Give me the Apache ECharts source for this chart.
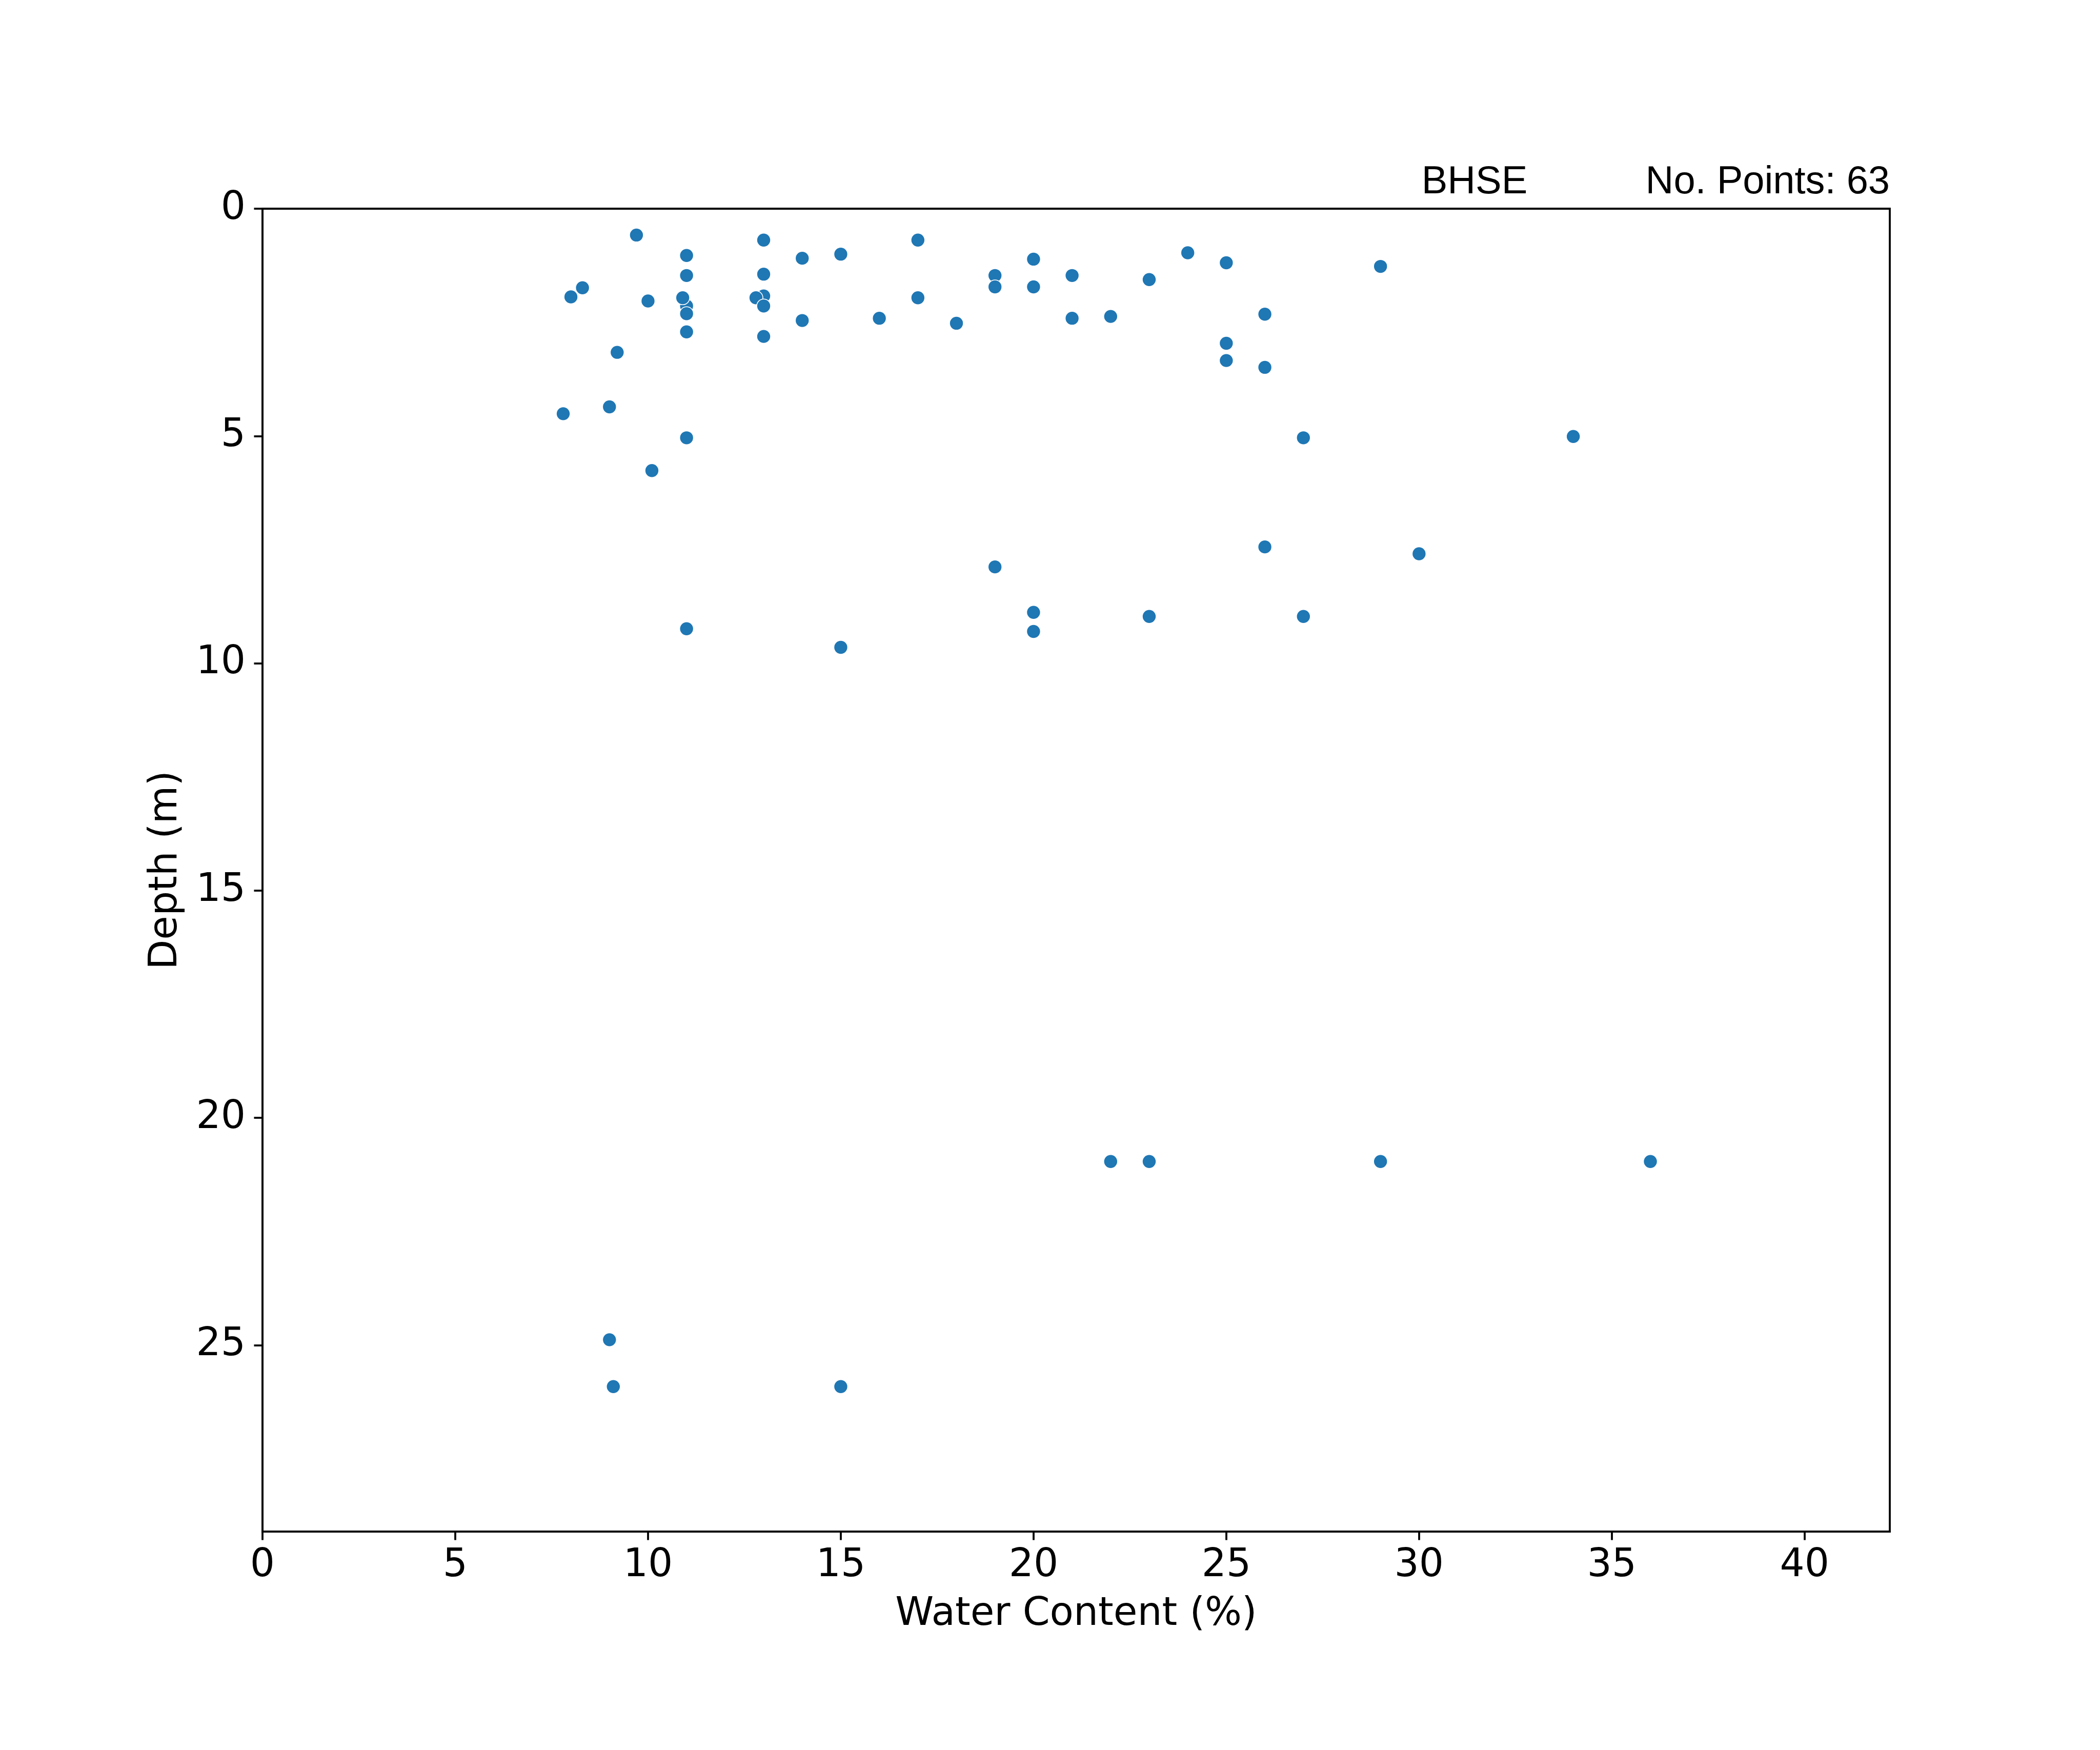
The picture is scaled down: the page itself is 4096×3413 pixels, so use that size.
<!DOCTYPE html>
<html>
<head>
<meta charset="utf-8">
<script src="https://cdn.jsdelivr.net/npm/echarts@6/dist/echarts.min.js"></script>
<style>html,body{margin:0;padding:0;background:#fff}#c{width:4096px;height:3413px}</style>
</head>
<body>
<div id="c"></div>
<script>
// Water content (%) and depth (m); hidden points drawn first
const waterContent = [11, 13,
  9.7, 11, 13, 14, 15, 17, 20, 24, 25, 29,
  11, 13, 19, 21, 23, 19, 20, 8.3, 8, 10,
  10.9, 11, 12.8, 13, 17, 14, 16, 18,
  21, 22, 26, 11, 13, 9.2, 25, 25, 26, 7.8,
  9, 11, 27, 34, 10.1, 26, 30, 19, 20, 20,
  23, 27, 11, 15, 22, 23, 29, 36, 9, 9.1, 15];
const depth = [2.14, 1.92,
  0.58, 1.03, 0.69, 1.09, 1.0, 0.69, 1.11, 0.97, 1.19, 1.27,
  1.47, 1.44, 1.47, 1.47, 1.56, 1.72, 1.72, 1.74, 1.94, 2.03,
  1.96, 2.31, 1.96, 2.14, 1.96, 2.46, 2.41, 2.52,
  2.41, 2.37, 2.32, 2.71, 2.81, 3.16, 2.96, 3.34, 3.49, 4.51,
  4.36, 5.04, 5.04, 5.01, 5.76, 7.44, 7.59, 7.88, 8.88, 9.30,
  8.97, 8.97, 9.24, 9.65, 20.96, 20.96, 20.96, 20.96, 24.88, 25.91, 25.91];
const xTicks = [0, 5, 10, 15, 20, 25, 30, 35, 40];
const yTicks = [0, 5, 10, 15, 20, 25];
const boreholeName = 'BHSE';
const pointsLabel = 'No. Points: 63';

const S = 0.8533;
const fs = 88.9 * S;
const lw = 4.44 * S;
const chart = echarts.init(document.getElementById('c'), null, {renderer: 'canvas'});
const gridL = 512, gridT = 407, gridR = 4096 - 3686, gridB = 3413 - 2987;
const data = waterContent.map((v, i) => [v, depth[i]]);
const headFont = fs + 'px "Liberation Sans", Arial, sans-serif';
chart.setOption({
  animation: false,
  backgroundColor: '#ffffff',
  grid: {left: gridL, top: gridT, right: gridR, bottom: gridB, show: true,
         borderColor: '#000', borderWidth: lw, backgroundColor: 'transparent'},
  xAxis: {
    type: 'value', min: 0, max: 42.21, interval: 5,
    name: 'Water Content (%)', nameLocation: 'middle', nameGap: 124,
    nameTextStyle: {fontFamily: 'DejaVu Sans', fontSize: fs, color: '#000'},
    axisLine: {show: true, onZero: false, lineStyle: {color: '#000', width: lw}},
    axisTick: {show: true, length: 19.4 * S, lineStyle: {color: '#000', width: lw}, customValues: xTicks},
    axisLabel: {fontFamily: 'DejaVu Sans', fontSize: fs, color: '#000', margin: 29, customValues: xTicks},
    splitLine: {show: false}
  },
  yAxis: {
    type: 'value', min: 0, max: 29.1, interval: 5, inverse: true,
    name: 'Depth (m)', nameLocation: 'middle', nameGap: 150, nameRotate: 90,
    nameTextStyle: {fontFamily: 'DejaVu Sans', fontSize: fs, color: '#000'},
    axisLine: {show: true, onZero: false, lineStyle: {color: '#000', width: lw}},
    axisTick: {show: true, length: 19.4 * S, lineStyle: {color: '#000', width: lw}, customValues: yTicks},
    axisLabel: {fontFamily: 'DejaVu Sans', fontSize: fs, color: '#000', margin: 33, customValues: yTicks},
    splitLine: {show: false}
  },
  series: [{
    type: 'scatter',
    data: data,
    symbol: 'circle',
    symbolSize: 27,
    itemStyle: {color: '#1f77b4', borderColor: '#ffffff', borderWidth: 1.6, opacity: 1},
    emphasis: {disabled: true},
    z: 3
  }],
  graphic: [
    {type: 'text', silent: true, z: 10, x: 2876, y: 318,
     style: {text: boreholeName, fill: '#000', font: headFont, align: 'center', verticalAlign: 'top'}},
    {type: 'text', silent: true, z: 10, x: 3686, y: 318,
     style: {text: pointsLabel, fill: '#000', font: headFont, align: 'right', verticalAlign: 'top'}}
  ]
});
</script>
</body>
</html>
